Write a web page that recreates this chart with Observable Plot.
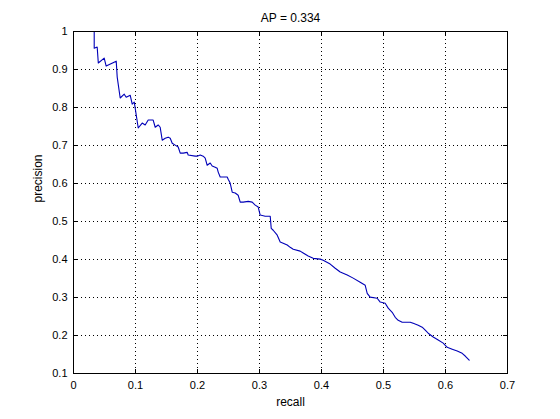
<!DOCTYPE html>
<html>
<head>
<meta charset="utf-8">
<script src="https://cdn.jsdelivr.net/npm/d3@7"></script>
<script src="https://cdn.jsdelivr.net/npm/@observablehq/plot@0.6"></script>
<style>
  html, body { margin: 0; padding: 0; background: white; }
</style>
</head>
<body>
<div id="chart"></div>
<script>
const title = "AP = 0.334";
const xLabel = "recall";
const yLabel = "precision";

const recall = [
  0.0334, 0.0334, 0.0382, 0.0400, 0.0495, 0.0527, 0.0689, 0.0705, 0.0753, 0.0818,
  0.0850, 0.0915, 0.0947, 0.0980, 0.1044, 0.1108, 0.1156, 0.1205, 0.1285, 0.1318,
  0.1366, 0.1398, 0.1431, 0.1479, 0.1527, 0.1560, 0.1592, 0.1640, 0.1689, 0.1721,
  0.1769, 0.1834, 0.1850, 0.1963, 0.1995, 0.2044, 0.2092, 0.2124, 0.2156, 0.2205,
  0.2237, 0.2285, 0.2318, 0.2334, 0.2366, 0.2415, 0.2479, 0.2495, 0.2527, 0.2560,
  0.2608, 0.2656, 0.2689, 0.2737, 0.2818, 0.2882, 0.2931, 0.2979, 0.3011, 0.3092,
  0.3173, 0.3189, 0.3221, 0.3286, 0.3334, 0.3382, 0.3447, 0.3495, 0.3544, 0.3656,
  0.3705, 0.3785, 0.3866, 0.3979, 0.4027, 0.4140, 0.4221, 0.4302, 0.4415, 0.4511,
  0.4624, 0.4705, 0.4737, 0.4785, 0.4898, 0.4947, 0.5027, 0.5076, 0.5140, 0.5189,
  0.5237, 0.5302, 0.5431, 0.5479, 0.5560, 0.5624, 0.5673, 0.5721, 0.5802, 0.5882,
  0.5963, 0.6027, 0.6108, 0.6189, 0.6269, 0.6318, 0.6382
];
const precision = [
  1.000, 0.956, 0.959, 0.917, 0.930, 0.909, 0.922, 0.880, 0.825, 0.835,
  0.827, 0.832, 0.809, 0.814, 0.746, 0.759, 0.754, 0.767, 0.767, 0.748,
  0.754, 0.748, 0.714, 0.719, 0.722, 0.719, 0.706, 0.701, 0.696, 0.680,
  0.680, 0.682, 0.675, 0.672, 0.672, 0.675, 0.672, 0.667, 0.648, 0.654,
  0.646, 0.643, 0.640, 0.630, 0.617, 0.617, 0.617, 0.611, 0.601, 0.577,
  0.575, 0.569, 0.551, 0.551, 0.553, 0.551, 0.543, 0.538, 0.517, 0.514,
  0.514, 0.482, 0.477, 0.464, 0.446, 0.443, 0.438, 0.432, 0.427, 0.422,
  0.417, 0.409, 0.403, 0.401, 0.398, 0.388, 0.377, 0.367, 0.359, 0.351,
  0.340, 0.332, 0.311, 0.301, 0.298, 0.288, 0.285, 0.272, 0.261, 0.248,
  0.240, 0.235, 0.235, 0.232, 0.227, 0.222, 0.214, 0.206, 0.196, 0.188,
  0.180, 0.169, 0.164, 0.159, 0.153, 0.146, 0.135
];

const xTicks = [0, 0.1, 0.2, 0.3, 0.4, 0.5, 0.6, 0.7];
const xTickLabels = ["0", "0.1", "0.2", "0.3", "0.4", "0.5", "0.6", "0.7"];
const yTicks = [0.1, 0.2, 0.3, 0.4, 0.5, 0.6, 0.7, 0.8, 0.9, 1];
const yTickLabels = ["0.1", "0.2", "0.3", "0.4", "0.5", "0.6", "0.7", "0.8", "0.9", "1"];

const data = recall.map((r, i) => ({recall: r, precision: precision[i]}));

const W = 560, H = 419;
const mL = 73, mR = 53, mT = 31, mB = 46;
const innerW = W - mL - mR, innerH = H - mT - mB;
const tickLen = 4;

const chart = Plot.plot({
  width: W,
  height: H,
  marginLeft: mL,
  marginRight: mR,
  marginTop: mT,
  marginBottom: mB,
  x: {domain: [0, 0.7]},
  y: {domain: [0.1, 1]},
  style: {
    fontFamily: "'Liberation Sans', Arial, Helvetica, sans-serif",
    fontSize: "11px",
    background: "white",
    color: "black"
  },
  marks: [
    Plot.gridX(xTicks, {stroke: "black", strokeOpacity: 1, strokeDasharray: "1,3"}),
    Plot.gridY(yTicks, {stroke: "black", strokeOpacity: 1, strokeDasharray: "1,3"}),
    Plot.line(data, {x: "recall", y: "precision", stroke: "#0000b8", strokeWidth: 1.1}),
    Plot.tickX(xTicks, {x: d => d, insetTop: innerH - tickLen, stroke: "black"}),
    Plot.tickX(xTicks, {x: d => d, insetBottom: innerH - tickLen, stroke: "black"}),
    Plot.tickY(yTicks, {y: d => d, insetRight: innerW - tickLen, stroke: "black"}),
    Plot.tickY(yTicks, {y: d => d, insetLeft: innerW - tickLen, stroke: "black"}),
    Plot.frame({stroke: "black"}),
    Plot.axisX(xTicks, {
      tickSize: 0, tickPadding: 8,
      tickFormat: d => xTickLabels[xTicks.indexOf(d)],
      label: null, fontSize: 11
    }),
    Plot.axisY(yTicks, {
      tickSize: 0, tickPadding: 6,
      tickFormat: d => yTickLabels[yTicks.indexOf(d)],
      label: null, fontSize: 11
    }),
    Plot.text([title], {frameAnchor: "top", dy: -13, lineAnchor: "middle", fontSize: 12, fill: "black"}),
    Plot.text([xLabel], {frameAnchor: "bottom", dy: 29, lineAnchor: "middle", fontSize: 12, fill: "black"}),
    Plot.text([yLabel], {frameAnchor: "left", dx: -35, rotate: -90, lineAnchor: "middle", fontSize: 12, fill: "black"})
  ]
});

document.getElementById("chart").appendChild(chart);
</script>
</body>
</html>
